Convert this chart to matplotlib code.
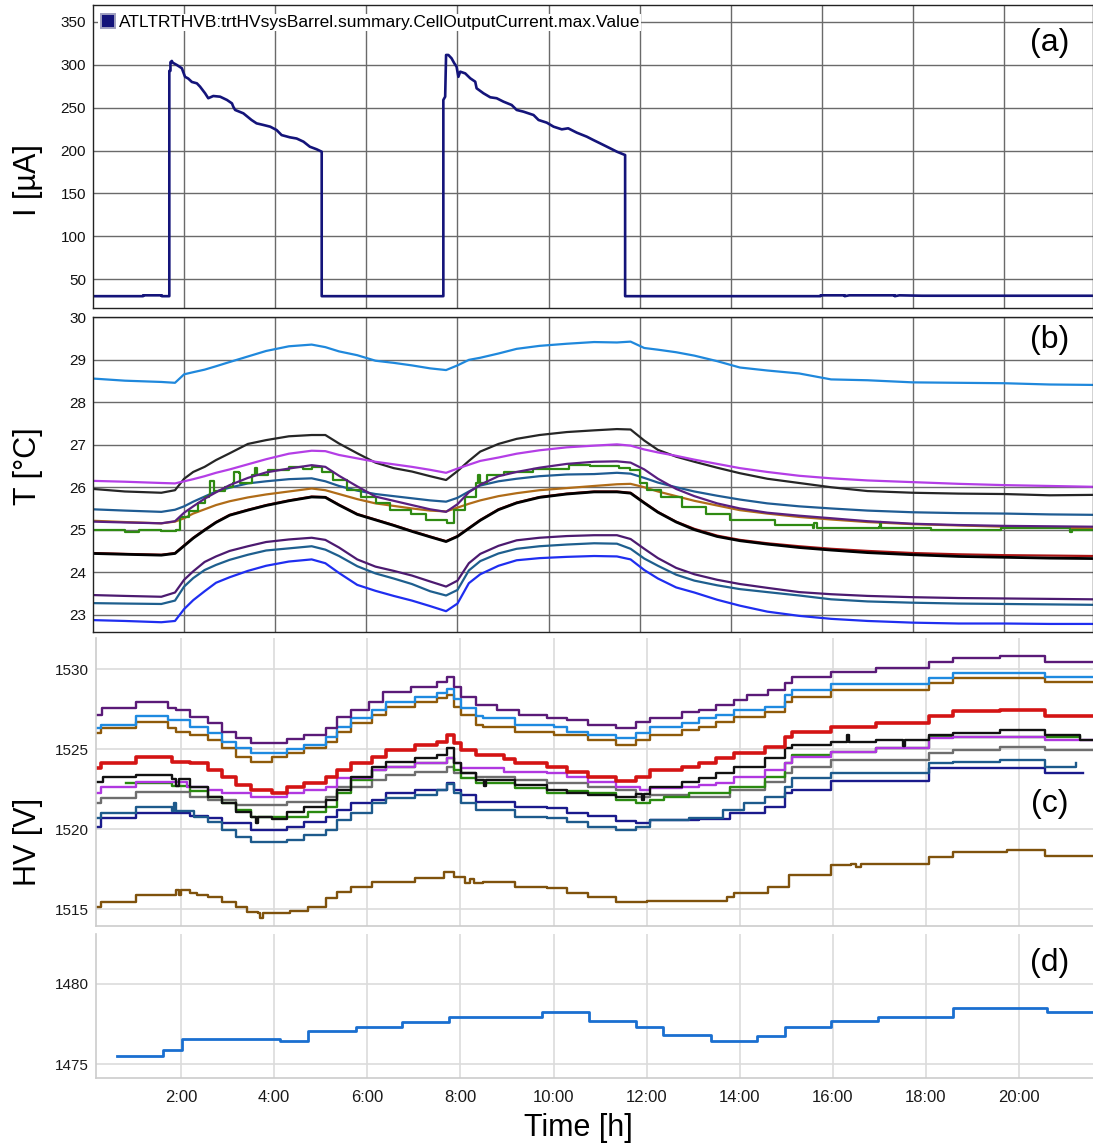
import matplotlib
matplotlib.use('Agg')
import matplotlib.pyplot as plt
from matplotlib.lines import Line2D

plt.rcParams['font.family'] = ['Liberation Sans', 'DejaVu Sans']

# ---------------- data ----------------
# panel (a): cell output current [uA], time in hours (panel a/b clock)
cur_t = [0, 1.10, 1.10, 1.51, 1.51, 1.675, 1.675, 1.70, 1.70, 1.73, 1.75, 1.84, 1.95, 2.02, 2.09, 2.17,
         2.28, 2.35, 2.46, 2.53, 2.64, 2.79, 2.94, 3.05, 3.08, 3.12, 3.30, 3.48, 3.59, 3.74, 3.89, 4.03,
         4.14, 4.32, 4.47, 4.62, 4.76, 4.91, 5.02, 5.02, 7.69, 7.69, 7.73, 7.75, 7.80, 7.87, 7.93, 7.98,
         8.02, 8.06, 8.17, 8.28, 8.39, 8.42, 8.57, 8.72, 8.86, 9.01, 9.19, 9.30, 9.45, 9.67, 9.78, 9.96,
         10.11, 10.29, 10.43, 10.62, 10.84, 10.98, 11.13, 11.35, 11.50, 11.68, 11.68, 15.97, 15.97, 16.5,
         16.5, 16.6, 17.6, 17.6, 17.7, 18.2, 21.95]
cur_v = [30, 30, 31, 31, 30, 30, 293, 293, 303, 304.5, 302.5, 299.8, 296, 286, 284, 280,
         278.4, 274.5, 266.8, 261, 263.6, 262.8, 259, 255, 251, 247.3, 243.4, 235.6, 231.7, 229.8, 227.8, 223.9,
         218, 215.4, 214, 210.3, 204.4, 201.4, 198.6, 30, 30, 259, 262.8, 311.5, 311.5, 307.6, 301.8, 297.9,
         286, 292, 290, 284.3, 280.3, 272.6, 266.8, 262.1, 261, 257, 253.1, 247.3, 245.3, 241.4, 235.6, 232.5,
         227.8, 224.7, 225.9, 220.8, 216.1, 212.3, 208.4, 202.6, 198.6, 194.7, 30, 30, 31, 31,
         30, 31, 31, 30, 31, 30.5, 30.5]

# panel (b): temperatures [C]
temp_t = [0.0, 0.7, 1.5, 1.8, 2.0, 2.2, 2.45, 2.7, 3.0, 3.4, 3.8, 4.3, 4.8, 5.1, 5.4, 5.8, 6.2, 6.6, 7.0, 7.4,
          7.75, 8.0, 8.25, 8.5, 8.9, 9.3, 9.8, 10.4, 11.0, 11.5, 11.8, 12.1, 12.4, 12.8, 13.2, 13.7, 14.2,
          14.8, 15.5, 16.2, 17.0, 18.0, 19.0, 20.0, 21.0, 21.95]
t_lightblue = [28.56, 28.51, 28.48, 28.46, 28.66, 28.71, 28.77, 28.85, 28.95, 29.08, 29.21, 29.32, 29.36, 29.30,
               29.20, 29.11, 28.98, 28.93, 28.87, 28.80, 28.76, 28.87, 29.00, 29.05, 29.15, 29.26, 29.33, 29.38,
               29.42, 29.41, 29.43, 29.28, 29.24, 29.18, 29.10, 28.97, 28.82, 28.75, 28.68, 28.54, 28.52, 28.47,
               28.46, 28.45, 28.42, 28.41]
t_black_up = [25.96, 25.90, 25.87, 25.93, 26.20, 26.36, 26.48, 26.64, 26.80, 27.02, 27.11, 27.20, 27.23, 27.23,
              27.03, 26.80, 26.58, 26.45, 26.37, 26.26, 26.17, 26.38, 26.62, 26.84, 27.02, 27.14, 27.23, 27.30,
              27.34, 27.37, 27.36, 27.10, 26.88, 26.72, 26.60, 26.46, 26.33, 26.20, 26.10, 26.00, 25.91, 25.87,
              25.85, 25.84, 25.81, 25.82]
t_magenta = [26.15, 26.13, 26.10, 26.09, 26.14, 26.19, 26.26, 26.34, 26.42, 26.54, 26.66, 26.79, 26.86, 26.85,
             26.76, 26.68, 26.60, 26.54, 26.48, 26.41, 26.34, 26.44, 26.53, 26.62, 26.70, 26.79, 26.87, 26.94,
             26.98, 27.01, 26.98, 26.89, 26.82, 26.74, 26.65, 26.55, 26.45, 26.36, 26.27, 26.21, 26.16, 26.12,
             26.08, 26.05, 26.03, 26.01]
t_purple_up = [25.19, 25.17, 25.15, 25.20, 25.40, 25.55, 25.73, 25.88, 26.05, 26.22, 26.35, 26.44, 26.52, 26.48,
               26.27, 26.02, 25.78, 25.68, 25.58, 25.48, 25.42, 25.60, 25.88, 26.06, 26.26, 26.36, 26.46, 26.55,
               26.60, 26.61, 26.58, 26.42, 26.20, 25.96, 25.79, 25.62, 25.50, 25.40, 25.33, 25.27, 25.20, 25.14,
               25.11, 25.09, 25.08, 25.07]
t_steel_up = [25.48, 25.45, 25.42, 25.47, 25.55, 25.66, 25.78, 25.90, 25.99, 26.09, 26.14, 26.19, 26.21, 26.14,
              26.03, 25.92, 25.84, 25.79, 25.74, 25.69, 25.66, 25.75, 25.90, 26.04, 26.14, 26.20, 26.26, 26.30,
              26.31, 26.34, 26.32, 26.22, 26.11, 26.00, 25.90, 25.80, 25.71, 25.62, 25.55, 25.50, 25.45, 25.41,
              25.39, 25.38, 25.36, 25.35]
t_brown = [25.21, 25.18, 25.15, 25.19, 25.27, 25.38, 25.48, 25.58, 25.67, 25.76, 25.83, 25.90, 25.97, 25.93,
           25.84, 25.72, 25.62, 25.56, 25.50, 25.45, 25.43, 25.52, 25.61, 25.69, 25.79, 25.86, 25.93, 25.98,
           26.03, 26.07, 26.08, 26.00, 25.90, 25.79, 25.68, 25.57, 25.46, 25.38, 25.30, 25.24, 25.18, 25.13,
           25.10, 25.07, 25.05, 25.03]
t_black_mid = [24.44, 24.42, 24.40, 24.44, 24.62, 24.80, 24.99, 25.17, 25.34, 25.46, 25.57, 25.68, 25.77, 25.76,
               25.58, 25.36, 25.23, 25.10, 24.96, 24.83, 24.72, 24.84, 25.03, 25.22, 25.47, 25.63, 25.76, 25.84,
               25.89, 25.89, 25.86, 25.63, 25.41, 25.18, 25.00, 24.84, 24.74, 24.66, 24.58, 24.52, 24.46, 24.41,
               24.37, 24.35, 24.33, 24.32]
t_red_mid = [24.45, 24.43, 24.41, 24.45, 24.63, 24.81, 25.00, 25.18, 25.35, 25.47, 25.58, 25.69, 25.78, 25.77,
             25.59, 25.37, 25.24, 25.11, 24.97, 24.84, 24.73, 24.85, 25.04, 25.23, 25.48, 25.64, 25.77, 25.85,
             25.90, 25.90, 25.87, 25.64, 25.42, 25.19, 25.02, 24.86, 24.76, 24.68, 24.61, 24.55, 24.50, 24.45,
             24.42, 24.40, 24.39, 24.38]
t_purple_low = [23.46, 23.44, 23.42, 23.52, 23.82, 24.02, 24.24, 24.37, 24.50, 24.61, 24.71, 24.77, 24.81, 24.76,
                24.58, 24.30, 24.13, 24.03, 23.92, 23.78, 23.66, 23.80, 24.21, 24.43, 24.62, 24.75, 24.81, 24.85,
                24.87, 24.87, 24.78, 24.55, 24.33, 24.10, 23.95, 23.82, 23.72, 23.63, 23.53, 23.48, 23.44, 23.41,
                23.39, 23.38, 23.37, 23.36]
t_steel_low = [23.27, 23.26, 23.25, 23.33, 23.66, 23.86, 24.05, 24.17, 24.29, 24.41, 24.51, 24.56, 24.61, 24.53,
               24.38, 24.14, 23.97, 23.85, 23.72, 23.55, 23.45, 23.58, 24.04, 24.26, 24.44, 24.55, 24.61, 24.65,
               24.68, 24.67, 24.55, 24.32, 24.15, 23.94, 23.80, 23.69, 23.60, 23.53, 23.45, 23.36, 23.31, 23.28,
               23.26, 23.25, 23.24, 23.23]
t_blue = [22.87, 22.85, 22.82, 22.85, 23.13, 23.34, 23.55, 23.75, 23.88, 24.03, 24.15, 24.25, 24.30, 24.21,
          23.98, 23.70, 23.56, 23.44, 23.33, 23.20, 23.08, 23.26, 23.74, 23.95, 24.15, 24.28, 24.33, 24.36,
          24.38, 24.37, 24.30, 24.05, 23.85, 23.64, 23.52, 23.35, 23.21, 23.07, 22.97, 22.90, 22.85, 22.81,
          22.79, 22.79, 22.78, 22.78]
green_t = [0.0, 0.7, 1.0, 1.5, 1.82, 1.9, 2.1, 2.3, 2.45, 2.55, 2.57, 2.63, 2.65, 2.9, 3.07, 3.1, 3.2, 3.22, 3.5,
           3.55, 3.6, 3.85, 4.3, 4.6, 4.8, 5.03, 5.27, 5.58, 5.89, 6.21, 6.52, 6.99, 7.3, 7.78, 7.93, 8.17, 8.4,
           8.45, 8.5, 8.64, 9.03, 9.66, 10.44, 10.91, 11.54, 11.78, 12.01, 12.16, 12.47, 12.92, 13.45, 13.99,
           14.97, 15.8, 15.83, 15.9, 16.11, 17.25, 17.27, 17.3, 18.39, 19.92, 21.44, 21.5, 21.95]
green_v = [24.99, 24.95, 25.00, 24.98, 24.99, 25.30, 25.45, 25.62, 25.78, 25.82, 26.15, 26.15, 25.90, 26.00,
           26.09, 26.35, 26.33, 26.10, 26.30, 26.45, 26.30, 26.40, 26.48, 26.42, 26.48, 26.37, 26.17, 25.93,
           25.78, 25.62, 25.46, 25.38, 25.23, 25.15, 25.46, 25.78, 26.09, 26.30, 26.10, 26.29, 26.37, 26.44,
           26.52, 26.50, 26.46, 26.40, 26.09, 25.93, 25.78, 25.54, 25.38, 25.23, 25.11, 25.03, 25.15, 25.03,
           25.03, 25.07, 25.18, 25.05, 24.99, 25.03, 24.95, 25.00, 24.99]

# panel (c): HV [V], step series (time in hours)
hv_purple_t = [0.2, 0.3, 1.04, 1.73, 1.89, 2.19, 2.58, 2.88, 3.19, 3.5, 4.27, 4.65, 5.11, 5.34, 5.65, 6.03, 6.34,
               6.95, 7.49, 7.72, 7.87, 8.02, 8.33, 8.79, 9.25, 9.86, 10.3, 10.74, 11.34, 11.78, 12.08, 12.75,
               13.12, 13.49, 13.87, 14.16, 14.61, 14.98, 15.13, 15.95, 16.92, 18.07, 18.59, 19.59, 20.56, 21.59]
hv_purple_v = [1527.13, 1527.54, 1527.96, 1527.54, 1527.44, 1527.02, 1526.6, 1526.08, 1525.67, 1525.4, 1525.6,
               1525.88, 1526.29, 1527.02, 1527.44, 1527.96, 1528.58, 1528.9, 1529.21, 1529.52, 1528.85, 1528.27,
               1527.75, 1527.44, 1527.13, 1526.92, 1526.81, 1526.5, 1526.29, 1526.71, 1526.92, 1527.33, 1527.44,
               1527.75, 1528.06, 1528.38, 1528.69, 1529.1, 1529.52, 1529.83, 1530.04, 1530.42, 1530.67, 1530.81,
               1530.42, 1530.42]
hv_lblue_t = [0.2, 0.28, 1.04, 1.73, 2.19, 2.58, 2.88, 3.19, 3.5, 4.27, 4.65, 5.11, 5.34, 5.65, 6.11, 6.41, 7.03,
              7.49, 7.72, 7.87, 8.02, 8.33, 8.48, 9.17, 10.02, 10.3, 10.74, 11.34, 11.78, 12.08, 12.75, 13.12,
              13.49, 13.87, 14.54, 14.98, 15.13, 15.95, 18.07, 18.59, 20.56, 21.59]
hv_lblue_v = [1526.29, 1526.5, 1527.06, 1526.81, 1526.4, 1525.98, 1525.46, 1525.04, 1524.73, 1525.0, 1525.25,
              1525.77, 1526.4, 1526.92, 1527.44, 1527.96, 1528.27, 1528.48, 1528.73, 1528.1, 1527.54, 1527.06,
              1526.92, 1526.5, 1526.4, 1526.08, 1525.88, 1525.67, 1525.98, 1526.4, 1526.6, 1526.92, 1527.13,
              1527.44, 1527.65, 1528.38, 1528.69, 1529.06, 1529.46, 1529.73, 1529.52, 1529.52]
hv_brown_t = [0.2, 0.28, 1.04, 1.73, 1.89, 2.19, 2.58, 2.88, 3.19, 3.5, 3.96, 4.27, 4.65, 5.11, 5.34, 5.65, 6.11,
              6.41, 7.03, 7.49, 7.72, 7.87, 8.02, 8.33, 8.48, 9.17, 10.02, 10.74, 11.34, 11.78, 12.08, 12.75,
              13.12, 13.49, 13.87, 14.54, 14.98, 15.13, 15.95, 18.07, 18.59, 20.56, 21.59]
hv_brown_v = [1525.98, 1526.29, 1526.71, 1526.29, 1526.08, 1525.88, 1525.56, 1525.04, 1524.52, 1524.21, 1524.52,
              1524.73, 1525.04, 1525.46, 1526.08, 1526.6, 1527.13, 1527.65, 1527.96, 1528.17, 1528.38, 1527.65,
              1527.13, 1526.5, 1526.4, 1526.08, 1525.88, 1525.56, 1525.25, 1525.56, 1525.88, 1526.19, 1526.4,
              1526.71, 1527.02, 1527.33, 1527.96, 1528.27, 1528.69, 1529.1, 1529.42, 1529.17, 1529.17]
hv_red_t = [0.2, 0.28, 1.04, 1.81, 2.19, 2.58, 2.88, 3.19, 3.5, 3.96, 4.27, 4.65, 5.11, 5.34, 5.65, 6.11, 6.41,
            7.03, 7.49, 7.72, 7.87, 8.02, 8.33, 8.94, 9.17, 9.86, 10.3, 10.74, 11.34, 11.78, 12.08, 12.75, 13.12,
            13.49, 13.87, 14.54, 14.98, 15.13, 15.95, 16.92, 18.07, 18.59, 19.59, 20.56, 21.59]
hv_red_v = [1523.79, 1524.1, 1524.52, 1524.2, 1524.1, 1523.69, 1523.27, 1522.75, 1522.44, 1522.23, 1522.65,
            1522.85, 1523.27, 1523.69, 1524.1, 1524.52, 1524.94, 1525.25, 1525.46, 1525.88, 1525.4, 1524.94,
            1524.6, 1524.4, 1524.1, 1523.9, 1523.58, 1523.27, 1523.02, 1523.27, 1523.69, 1523.9, 1524.1, 1524.42,
            1524.73, 1525.15, 1525.77, 1526.08, 1526.4, 1526.6, 1527.06, 1527.38, 1527.44, 1527.06, 1527.06]
hv_black_t = [0.2, 0.33, 1.04, 1.81, 1.9, 1.95, 2.19, 2.58, 2.88, 3.19, 3.5, 3.6, 3.65, 3.96, 4.27, 4.65, 5.11,
              5.34, 5.65, 6.11, 6.41, 7.03, 7.49, 7.72, 7.87, 8.02, 8.33, 8.5, 8.55, 9.17, 9.86, 10.3, 10.74, 11.34,
              11.78, 11.9, 11.95, 12.08, 12.75, 13.12, 13.49, 13.87, 14.54, 14.98, 15.13, 15.95, 16.3, 16.35,
              16.92, 17.5, 17.55, 18.07, 18.59, 19.59, 20.56, 21.3, 21.59]
hv_black_v = [1522.96, 1523.27, 1523.38, 1523.1, 1522.7, 1523.1, 1522.65, 1522.02, 1521.6, 1521.08, 1520.77,
              1520.4, 1520.77, 1520.65, 1521.08, 1521.4, 1521.81, 1522.44, 1523.27, 1523.9, 1524.21, 1524.42,
              1524.63, 1525.04, 1524.1, 1523.48, 1523.06, 1522.7, 1523.06, 1522.75, 1522.44, 1522.23, 1522.13,
              1522.02, 1522.2, 1521.8, 1522.2, 1522.65, 1522.96, 1523.17, 1523.48, 1523.9, 1524.42, 1525.04,
              1525.25, 1525.46, 1525.9, 1525.46, 1525.56, 1525.2, 1525.56, 1525.88, 1525.98, 1526.19, 1525.9,
              1525.56, 1525.56]
hv_magenta_t = [0.2, 0.28, 1.04, 2.12, 2.58, 2.88, 3.5, 4.27, 4.65, 5.11, 5.34, 6.11, 6.41, 7.03, 7.72, 7.87,
                8.02, 8.94, 9.86, 10.3, 10.74, 11.34, 11.86, 12.08, 12.75, 13.12, 13.49, 13.87, 14.54, 14.98,
                15.13, 15.95, 16.92, 18.07, 18.59, 20.56, 21.59]
hv_magenta_v = [1522.23, 1522.65, 1522.96, 1522.65, 1522.44, 1522.23, 1522.02, 1522.23, 1522.44, 1522.65,
                1523.17, 1523.69, 1523.9, 1524.1, 1524.42, 1524.1, 1523.79, 1523.58, 1523.48, 1523.27, 1522.96,
                1522.65, 1522.44, 1522.54, 1522.65, 1522.75, 1522.85, 1523.27, 1523.69, 1524.1, 1524.52,
                1524.83, 1525.04, 1525.67, 1525.77, 1525.56, 1525.56]
hv_gray_t = [0.2, 0.28, 1.04, 2.19, 2.58, 3.19, 4.27, 5.11, 5.34, 6.11, 6.41, 7.03, 7.72, 7.87, 8.33, 9.17, 9.86,
             10.74, 11.34, 11.78, 12.08, 12.9, 13.8, 14.54, 14.98, 15.13, 15.95, 18.07, 18.59, 19.59, 20.56, 21.59]
hv_gray_v = [1521.6, 1521.92, 1522.33, 1522.02, 1521.81, 1521.5, 1521.71, 1522.02, 1522.65, 1523.06, 1523.38,
             1523.58, 1523.9, 1523.48, 1523.27, 1523.06, 1522.85, 1522.65, 1522.44, 1522.02, 1522.13, 1522.0,
             1522.44, 1522.96, 1523.48, 1523.9, 1524.31, 1524.73, 1524.94, 1525.15, 1524.94, 1524.94]
hv_green_t = [0.81, 1.81, 2.19, 2.58, 2.88, 3.19, 3.5, 4.72, 5.11, 5.34, 5.65, 6.11, 6.41, 7.03, 7.72, 7.87, 8.02,
              8.33, 9.17, 9.86, 10.3, 10.74, 11.34, 11.78, 12.08, 12.38, 12.9, 13.8, 14.54, 14.98, 15.13, 15.95,
              16.92, 18.07, 21.3]
hv_green_v = [1522.85, 1522.7, 1522.4, 1522.02, 1521.6, 1521.19, 1520.77, 1521.08, 1521.4, 1522.23, 1523.06,
              1523.69, 1523.9, 1524.1, 1524.42, 1523.69, 1523.17, 1522.85, 1522.54, 1522.23, 1522.35, 1522.23,
              1521.81, 1521.6, 1521.81, 1522.02, 1522.23, 1522.65, 1523.27, 1524.1, 1524.63, 1524.83, 1525.04,
              1525.77, 1525.77]
hv_steel_t = [0.2, 0.28, 1.04, 1.81, 1.85, 1.9, 2.28, 2.58, 2.88, 3.19, 3.5, 4.27, 4.65, 5.11, 5.34, 5.65, 6.11,
              6.41, 7.03, 7.49, 7.72, 7.87, 8.02, 8.33, 9.17, 9.86, 10.3, 10.74, 11.34, 11.78, 12.08, 12.9, 13.65,
              14.09, 14.54, 14.98, 15.13, 15.95, 18.07, 18.59, 19.59, 20.56, 21.23]
hv_steel_v = [1520.67, 1521.02, 1521.4, 1521.1, 1521.6, 1521.1, 1520.77, 1520.46, 1519.94, 1519.52, 1519.21,
              1519.3, 1519.63, 1519.94, 1520.56, 1520.98, 1521.6, 1521.92, 1522.13, 1522.44, 1522.81, 1522.23,
              1521.6, 1521.19, 1520.77, 1520.67, 1520.46, 1520.15, 1519.94, 1520.15, 1520.56, 1520.67, 1521.19,
              1521.6, 1522.02, 1522.65, 1523.17, 1523.48, 1524.1, 1524.21, 1524.31, 1523.9, 1524.1]
hv_navy_t = [0.2, 0.28, 1.04, 2.19, 2.58, 2.88, 3.5, 4.27, 4.65, 5.11, 5.34, 5.65, 6.11, 6.41, 7.03, 7.72, 7.87,
             8.02, 8.33, 9.17, 9.86, 10.3, 10.74, 11.34, 11.78, 12.08, 13.12, 13.8, 14.54, 14.98, 15.13, 15.95,
             18.07, 20.56, 21.38]
hv_navy_v = [1520.15, 1520.67, 1520.98, 1520.8, 1520.67, 1520.35, 1519.94, 1520.15, 1520.46, 1520.77, 1521.19,
             1521.6, 1521.81, 1522.23, 1522.44, 1522.85, 1522.44, 1522.13, 1521.71, 1521.4, 1521.3, 1521.0,
             1520.8, 1520.5, 1520.35, 1520.56, 1520.6, 1520.98, 1521.4, 1522.23, 1522.44, 1523.0, 1523.79,
             1523.48, 1523.48]
hv_brown_low_t = [0.2, 0.28, 1.04, 1.89, 1.95, 2.0, 2.19, 2.35, 2.58, 2.88, 3.19, 3.42, 3.65, 3.7, 3.75, 4.34,
                  4.72, 5.11, 5.34, 5.65, 6.11, 7.03, 7.64, 7.87, 8.1, 8.2, 8.3, 8.48, 9.17, 9.86, 10.3, 10.74,
                  11.34, 12.0, 13.72, 13.87, 14.61, 15.06, 15.95, 16.4, 16.5, 16.6, 18.07, 18.59, 19.74, 20.56,
                  21.59]
hv_brown_low_v = [1515.15, 1515.46, 1515.88, 1516.19, 1515.9, 1516.19, 1516.0, 1515.88, 1515.77, 1515.46,
                  1515.15, 1514.83, 1514.73, 1514.45, 1514.73, 1514.9, 1515.15, 1515.67, 1516.08, 1516.4, 1516.71,
                  1516.92, 1517.33, 1517.0, 1516.6, 1516.9, 1516.6, 1516.71, 1516.4, 1516.29, 1515.98, 1515.77,
                  1515.46, 1515.5, 1515.77, 1515.98, 1516.4, 1517.13, 1517.75, 1517.83, 1517.6, 1517.83, 1518.27,
                  1518.58, 1518.69, 1518.31, 1518.31]

# panel (d): HV [V]
ref_t = [0.625, 1.613, 2.03, 4.13, 4.73, 5.75, 6.75, 7.76, 9.75, 10.76, 11.77, 12.36, 13.38, 14.37, 14.97,
         15.97, 16.97, 18.59, 20.6, 21.59]
ref_v = [1475.5, 1475.85, 1476.54, 1476.44, 1477.06, 1477.33, 1477.6, 1477.96, 1478.25, 1477.67, 1477.33,
         1476.79, 1476.46, 1476.75, 1477.33, 1477.67, 1477.92, 1478.52, 1478.23, 1478.23]

cur_yticks = [50, 100, 150, 200, 250, 300, 350]
temp_yticks = [23, 24, 25, 26, 27, 28, 29, 30]
hv_yticks = [1515, 1520, 1525, 1530]
ref_yticks = [1475, 1480]
hour_ticks = [2, 4, 6, 8, 10, 12, 14, 16, 18, 20]
hour_labels = ['2:00', '4:00', '6:00', '8:00', '10:00', '12:00', '14:00', '16:00', '18:00', '20:00']
legend_label = 'ATLTRTHVB:trtHVsysBarrel.summary.CellOutputCurrent.max.Value'

# ---------------- figure ----------------
W, H = 1093, 1146
fig = plt.figure(figsize=(W / 100, H / 100), dpi=100)


def box(left, top, right, bottom):
    return [left / W, 1 - bottom / H, (right - left) / W, (bottom - top) / H]


axA = fig.add_axes(box(93, 5, 1093, 308))
axB = fig.add_axes(box(93, 317, 1093, 632))
axC = fig.add_axes(box(96, 638, 1093, 926))
axD = fig.add_axes(box(96, 934, 1093, 1078))

dark_grid = dict(color='#6a6a6a', linewidth=1.0)
for ax in (axA, axB):
    ax.set_xlim(0, 21.95)
    ax.set_xticks(hour_ticks)
    ax.set_xticklabels([])
    ax.grid(True, **dark_grid)
    ax.set_axisbelow(True)
    ax.tick_params(length=0, labelsize=11, pad=5, colors='#111111')
    for s in ax.spines.values():
        s.set_color('#222222')
        s.set_linewidth(1.0)

for ax in (axC, axD):
    ax.set_xlim(0.174, 21.587)
    ax.set_xticks(hour_ticks)
    ax.grid(True, color='#dcdcdc', linewidth=1.2)
    ax.set_axisbelow(True)
    ax.tick_params(length=0, labelsize=11, pad=5, colors='#1a1a1a')
    ax.spines['top'].set_visible(False)
    ax.spines['right'].set_visible(False)
    ax.spines['left'].set_color('#cccccc')
    ax.spines['bottom'].set_color('#cccccc')
    ax.spines['left'].set_linewidth(1.2)
    ax.spines['bottom'].set_linewidth(1.2)
axC.set_xticklabels([])
axD.set_xticklabels(hour_labels)
axD.tick_params(axis='x', pad=9, labelsize=12)

# (a)
axA.plot(cur_t, cur_v, color='#14147a', lw=1.9)
axA.set_ylim(16.2, 369.8)
axA.set_yticks(cur_yticks)
handle = Line2D([], [], marker='s', linestyle='None', markersize=10, markerfacecolor='#14147a',
                markeredgecolor='#a0a0c0', markeredgewidth=1.4)
leg = axA.legend([handle], [legend_label], loc='upper left', bbox_to_anchor=(0.005, 0.97),
                 fontsize=12.5, frameon=True, facecolor='white', edgecolor='none', framealpha=1,
                 borderpad=0.05, handletextpad=0.15, handlelength=1.0, borderaxespad=0)
leg.get_frame().set_boxstyle('square', pad=0)

# (b)
lw = 1.6
axB.plot(temp_t, t_lightblue, color='#1f88dc', lw=lw)
axB.plot(temp_t, t_black_up, color='#262626', lw=lw)
axB.plot(temp_t, t_magenta, color='#b43ee6', lw=lw)
axB.plot(temp_t, t_steel_up, color='#1f5c93', lw=lw)
axB.plot(temp_t, t_brown, color='#b06c18', lw=lw)
axB.plot(green_t, green_v, color='#2f8a12', lw=lw, drawstyle='steps-post')
axB.plot(temp_t, t_purple_up, color='#5a1f80', lw=lw)
axB.plot(temp_t, t_red_mid, color='#a81414', lw=lw)
axB.plot(temp_t, t_black_mid, color='#000000', lw=2.0)
axB.plot(temp_t, t_purple_low, color='#4c1a70', lw=lw)
axB.plot(temp_t, t_steel_low, color='#1e5f8e', lw=lw)
axB.plot(temp_t, t_blue, color='#1f2ef0', lw=lw)
axB.set_ylim(22.59, 30.01)
axB.set_yticks(temp_yticks)

# (c)
lwc = 1.7
axC.step(hv_brown_low_t, hv_brown_low_v, where='post', color='#7f520c', lw=lwc)
axC.step(hv_navy_t, hv_navy_v, where='post', color='#1a1a8c', lw=lwc)
axC.step(hv_steel_t, hv_steel_v, where='post', color='#1d5a8c', lw=lwc)
axC.step(hv_gray_t, hv_gray_v, where='post', color='#6e6e6e', lw=lwc)
axC.step(hv_green_t, hv_green_v, where='post', color='#2a8a10', lw=lwc)
axC.step(hv_magenta_t, hv_magenta_v, where='post', color='#b038e0', lw=lwc)
axC.step(hv_black_t, hv_black_v, where='post', color='#111111', lw=lwc)
axC.step(hv_red_t, hv_red_v, where='post', color='#d41414', lw=2.6)
axC.step(hv_brown_t, hv_brown_v, where='post', color='#8e5a0a', lw=lwc)
axC.step(hv_lblue_t, hv_lblue_v, where='post', color='#1e8ae0', lw=lwc)
axC.step(hv_purple_t, hv_purple_v, where='post', color='#5a1a78', lw=lwc)
axC.set_ylim(1513.94, 1531.94)
axC.set_yticks(hv_yticks)

# (d)
axD.step(ref_t, ref_v, where='post', color='#1a6fd0', lw=2.0)
axD.set_ylim(1474.13, 1483.1)
axD.set_yticks(ref_yticks)

# labels
fs_lab = 22
fig.text(28 / W, 1 - 180 / H, 'I [µA]', rotation=90, ha='center', va='center', fontsize=fs_lab)
fig.text(28 / W, 1 - 466 / H, 'T [°C]', rotation=90, ha='center', va='center', fontsize=fs_lab)
fig.text(28 / W, 1 - 842 / H, 'HV [V]', rotation=90, ha='center', va='center', fontsize=fs_lab)
fig.text(578 / W, 1 - 1128 / H, 'Time [h]', ha='center', va='center', fontsize=fs_lab)
for lab, y in (('(a)', 43), ('(b)', 340), ('(c)', 804), ('(d)', 963)):
    fig.text(1050 / W, 1 - y / H, lab, ha='center', va='center', fontsize=23)

fig.savefig('out.png', dpi=100)
